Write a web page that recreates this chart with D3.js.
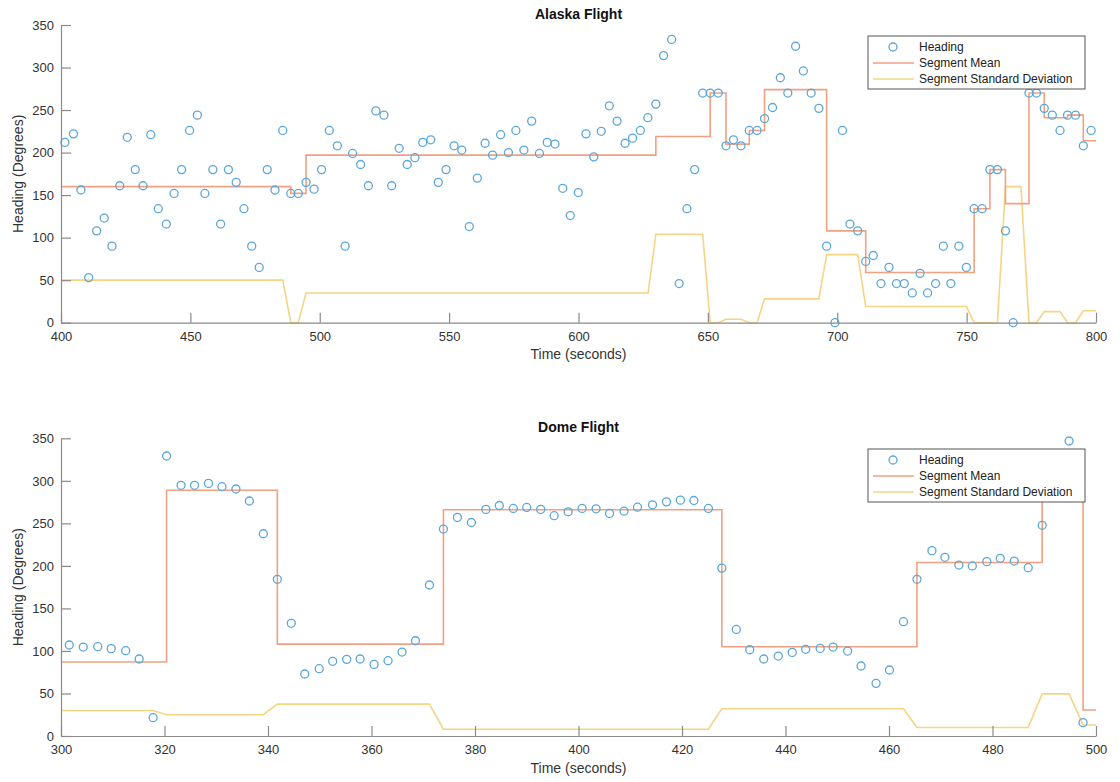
<!DOCTYPE html>
<html>
<head>
<meta charset="utf-8">
<script src="https://cdn.jsdelivr.net/npm/d3@7"></script>
<style>
  html, body { margin: 0; padding: 0; background: #fff; }
  svg { display: block; font-family: "Liberation Sans", Arial, Helvetica, sans-serif; }
</style>
</head>
<body>
<svg id="chart" width="1120" height="782"></svg>
<script>
// ---------------- DATA ----------------
const yTicks = [0, 50, 100, 150, 200, 250, 300, 350];
const alaskaXTicks = [400, 450, 500, 550, 600, 650, 700, 750, 800];
const domeXTicks = [300, 320, 340, 360, 380, 400, 420, 440, 460, 480, 500];

const alaskaTime = [
  401.5, 404.8, 407.7, 410.7, 413.8, 416.7, 419.7, 422.7, 425.6, 428.7,
  431.7, 434.7, 437.6, 440.7, 443.7, 446.6, 449.7, 452.7, 455.6, 458.7,
  461.7, 464.7, 467.7, 470.7, 473.7, 476.6, 479.7, 482.7, 485.7, 488.8,
  491.7, 494.7, 497.8, 500.7, 503.7, 506.8, 509.8, 512.7, 515.8, 518.8,
  521.7, 524.8, 527.8, 530.7, 533.8, 536.8, 539.8, 542.9, 545.8, 548.8,
  551.9, 554.9, 557.8, 560.9, 563.9, 566.8, 569.9, 572.9, 575.8, 578.9,
  581.9, 584.9, 587.9, 590.9, 593.9, 596.8, 599.9, 602.9, 605.9, 608.8,
  611.9, 614.9, 618, 620.9, 623.9, 626.8, 629.9, 632.9, 636, 638.9,
  641.9, 644.9, 648, 650.9, 654, 657, 659.9, 662.8, 666, 669,
  671.9, 675, 678, 680.9, 683.9, 686.9, 689.9, 692.9, 695.9, 699.1,
  702, 704.9, 707.9, 711, 713.9, 716.9, 720, 722.9, 725.9, 729,
  732, 734.9, 738, 741, 743.9, 747, 749.9, 752.9, 756, 759,
  761.9, 765, 768, 771, 774.1, 777, 780, 783.1, 786.1, 789,
  792.1, 795.1, 798.1
];
const alaskaHeading = [
  212, 222, 156, 53, 108, 123, 90, 161, 218, 180,
  161, 221, 134, 116, 152, 180, 226, 244, 152, 180,
  116, 180, 165, 134, 90, 65, 180, 156, 226, 152,
  152, 165, 157, 180, 226, 208, 90, 199, 186, 161,
  249, 244, 161, 205, 186, 194, 212, 215, 165, 180,
  208, 203, 113, 170, 211, 197, 221, 200, 226, 203,
  237, 199, 212, 210, 158, 126, 153, 222, 195, 225,
  255, 237, 211, 217, 226, 241, 257, 314, 333, 46,
  134, 180, 270, 270, 270, 208, 215, 208, 226, 226,
  240, 253, 288, 270, 325, 296, 270, 252, 90, 0,
  226, 116, 108, 72, 79, 46, 65, 46, 46, 35,
  58, 35, 46, 90, 46, 90, 65, 134, 134, 180,
  180, 108, 0, 312, 270, 270, 252, 244, 226, 244,
  244, 208, 226
];
// segment mean (step-after vertices)
const alaskaMeanT = [400, 488.8, 494.7, 629.9, 650.9, 657, 666, 671.9, 695.9, 711, 752.9, 759, 765, 774.1, 780, 789, 795.1, 800];
const alaskaMeanV = [160, 152, 197, 219, 270, 210, 226, 274, 108, 59, 134, 180, 140, 270, 241, 244, 214, 214];
// segment standard deviation (line vertices)
const alaskaStdT = [400, 485.7, 488.8, 491.7, 494.7, 626.9, 629.9, 648, 650.9, 654, 657, 662.8, 666, 669, 671.9, 692.9, 695.9, 707.9, 711, 749.9, 752.9, 761.9, 765, 771, 774.1, 777, 780, 786.1, 789, 792.1, 795.1, 800];
const alaskaStdV = [50, 50, 0, 0, 35, 35, 104, 104, 0, 0, 4, 4, 0, 0, 28, 28, 80, 80, 19, 19, 0, 0, 160, 160, 0, 0, 13, 13, 0, 0, 14, 14];

const domeTime = [
  301.6, 304.3, 307.1, 309.7, 312.5, 315.1, 317.8, 320.4, 323.2, 325.8,
  328.5, 331.1, 333.8, 336.4, 339.1, 341.8, 344.5, 347.1, 349.9, 352.5,
  355.2, 357.8, 360.5, 363.2, 365.9, 368.5, 371.2, 373.9, 376.6, 379.3,
  382.1, 384.7, 387.4, 390, 392.7, 395.3, 398, 400.7, 403.4, 406,
  408.8, 411.4, 414.3, 417, 419.7, 422.3, 425.1, 427.7, 430.5, 433.1,
  435.8, 438.6, 441.3, 443.9, 446.7, 449.2, 452, 454.6, 457.5, 460.1,
  462.8, 465.4, 468.3, 470.8, 473.5, 476.1, 478.9, 481.5, 484.2, 486.9,
  489.6, 492.2, 494.8, 497.5
];
const domeHeading = [
  107, 104.6, 105, 102.7, 100.3, 90.5, 21.5, 329.2, 294.7, 294.7,
  297, 293.1, 290.4, 276.3, 237.8, 184.2, 132.5, 72.9, 79.1, 87.8,
  90.1, 90.5, 84.2, 88.5, 98.7, 112, 177.5, 243.3, 257, 251,
  266.4, 271, 267.5, 268.7, 266.4, 259, 263.6, 267.5, 267.1, 261.7,
  264.3, 269, 271.8, 275.3, 277.3, 276.9, 267.5, 197.4, 125.3, 101.4,
  90.5, 94, 98.3, 101.9, 103, 104.6, 99.9, 82.3, 61.9, 77.6,
  134.4, 184.2, 217.9, 210.1, 201, 199.9, 205, 208.9, 205.7, 197.9,
  247.7, 298, 346.8, 15.7
];
const domeMeanT = [300, 320.4, 341.8, 373.9, 427.7, 465.4, 489.6, 497.5, 500];
const domeMeanV = [87, 289, 108, 266, 105, 204, 297.5, 30.6, 30.6];
const domeStdT = [300, 317.8, 320.4, 339.1, 341.8, 371.2, 373.9, 425.1, 427.7, 462.8, 465.4, 486.9, 489.6, 494.8, 497.5, 500];
const domeStdV = [30, 30, 25, 25, 37.5, 37.5, 8, 8, 32, 32, 10, 10, 49.5, 49.5, 13, 13];

const legendLabels = ["Heading", "Segment Mean", "Segment Standard Deviation"];

// ---------------- STYLE ----------------
const C_BLUE = "#5BA6DA";
const C_ORANGE = "#F0A183";
const C_YELLOW = "#F6D484";
const C_AXIS = "#8a8a8a";
const C_TEXT = "#333";

const svg = d3.select("#chart");

function drawPanel(cfg) {
  const g = svg.append("g");
  const x = d3.scaleLinear().domain(cfg.xDomain).range([61, 1096]);
  const y = d3.scaleLinear().domain([0, 350]).range(cfg.yRange);

  // std line
  const stdData = cfg.stdT.map((t, i) => [t, cfg.stdV[i]]);
  g.append("path").datum(stdData)
    .attr("fill", "none").attr("stroke", C_YELLOW).attr("stroke-width", 1.6)
    .attr("d", d3.line().x(d => x(d[0])).y(d => y(d[1])));

  // mean stairs
  const meanData = cfg.meanT.map((t, i) => [t, cfg.meanV[i]]);
  g.append("path").datum(meanData)
    .attr("fill", "none").attr("stroke", C_ORANGE).attr("stroke-width", 1.6)
    .attr("d", d3.line().curve(d3.curveStepAfter).x(d => x(d[0])).y(d => y(d[1])));

  // heading points
  g.selectAll("circle.pt").data(cfg.time.map((t, i) => [t, cfg.heading[i]]))
    .enter().append("circle").attr("class", "pt")
    .attr("cx", d => x(d[0])).attr("cy", d => y(d[1])).attr("r", 4)
    .attr("fill", "none").attr("stroke", C_BLUE).attr("stroke-width", 1.3);

  // axes
  const yAxis = d3.axisLeft(y).tickValues(yTicks).tickSizeInner(-10).tickSizeOuter(0).tickPadding(7);
  const ya = g.append("g").attr("transform", "translate(61,0)").call(yAxis);
  const xAxis = d3.axisBottom(x).tickValues(cfg.xTicks).tickSizeInner(-10).tickSizeOuter(0).tickPadding(9);
  const xa = g.append("g").attr("transform", `translate(0,${cfg.yRange[0]})`).call(xAxis);
  [ya, xa].forEach(a => {
    a.select(".domain").attr("stroke", C_AXIS).attr("stroke-width", 1.2);
    a.selectAll(".tick line").attr("stroke", C_AXIS).attr("stroke-width", 1.2);
    a.selectAll(".tick text").attr("fill", C_TEXT).style("font-size", "13px")
      .style("font-family", "'Liberation Sans', Arial, sans-serif");
  });

  // title
  g.append("text").attr("x", 578.5).attr("y", cfg.titleY).attr("text-anchor", "middle")
    .style("font-size", "14px").style("font-weight", "bold").attr("fill", "#111")
    .text(cfg.title);
  // x label
  g.append("text").attr("x", 578.5).attr("y", cfg.xLabelY).attr("text-anchor", "middle")
    .style("font-size", "14px").attr("fill", C_TEXT).text("Time (seconds)");
  // y label
  const yMid = (cfg.yRange[0] + cfg.yRange[1]) / 2;
  g.append("text").attr("transform", `translate(23,${yMid}) rotate(-90)`)
    .attr("text-anchor", "middle").style("font-size", "14px").attr("fill", C_TEXT)
    .text("Heading (Degrees)");

  // legend
  const lg = g.append("g").attr("transform", `translate(868,${cfg.legendY})`);
  lg.append("rect").attr("x", 0).attr("y", 0).attr("width", 217).attr("height", 53)
    .attr("fill", "#fff").attr("stroke", "#555").attr("stroke-width", 1);
  const rows = [11, 27, 43];
  lg.append("circle").attr("cx", 25).attr("cy", rows[0]).attr("r", 4)
    .attr("fill", "none").attr("stroke", C_BLUE).attr("stroke-width", 1.3);
  lg.append("line").attr("x1", 5).attr("x2", 46).attr("y1", rows[1]).attr("y2", rows[1])
    .attr("stroke", C_ORANGE).attr("stroke-width", 1.6);
  lg.append("line").attr("x1", 5).attr("x2", 46).attr("y1", rows[2]).attr("y2", rows[2])
    .attr("stroke", C_YELLOW).attr("stroke-width", 1.6);
  legendLabels.forEach((t, i) => {
    lg.append("text").attr("x", 51).attr("y", rows[i]).attr("dy", "0.35em")
      .style("font-size", "12px").attr("fill", "#222").text(t);
  });
}

drawPanel({
  title: "Alaska Flight", titleY: 19, xLabelY: 359, legendY: 36,
  xDomain: [400, 800], yRange: [322.7, 25], xTicks: alaskaXTicks,
  time: alaskaTime, heading: alaskaHeading,
  meanT: alaskaMeanT, meanV: alaskaMeanV, stdT: alaskaStdT, stdV: alaskaStdV
});
drawPanel({
  title: "Dome Flight", titleY: 432, xLabelY: 773, legendY: 449,
  xDomain: [300, 500], yRange: [736, 438.3], xTicks: domeXTicks,
  time: domeTime, heading: domeHeading,
  meanT: domeMeanT, meanV: domeMeanV, stdT: domeStdT, stdV: domeStdV
});
</script>
</body>
</html>
